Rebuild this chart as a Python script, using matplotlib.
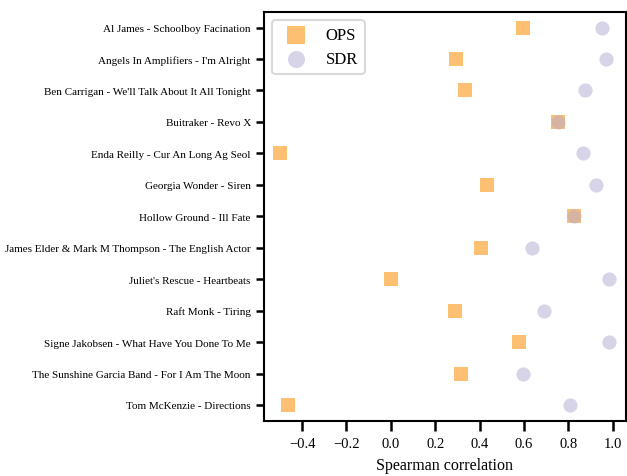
import matplotlib
matplotlib.use('Agg')
import matplotlib.pyplot as plt
import numpy as np

plt.rcParams['font.family'] = ['Liberation Serif', 'DejaVu Serif']

songs = [
    "Al James - Schoolboy Facination",
    "Angels In Amplifiers - I'm Alright",
    "Ben Carrigan - We'll Talk About It All Tonight",
    "Buitraker - Revo X",
    "Enda Reilly - Cur An Long Ag Seol",
    "Georgia Wonder - Siren",
    "Hollow Ground - Ill Fate",
    "James Elder & Mark M Thompson - The English Actor",
    "Juliet's Rescue - Heartbeats",
    "Raft Monk - Tiring",
    "Signe Jakobsen - What Have You Done To Me",
    "The Sunshine Garcia Band - For I Am The Moon",
    "Tom McKenzie - Directions",
]

ops = [0.598, 0.293, 0.334, 0.753, -0.498, 0.434, 0.826, 0.407, 0.001, 0.288, 0.580, 0.316, -0.462]
sdr = [0.953, 0.970, 0.877, 0.753, 0.868, 0.926, 0.826, 0.637, 0.985, 0.692, 0.985, 0.598, 0.810]

fig = plt.figure(figsize=(6.27, 4.77), dpi=100)
ax = fig.add_axes([0.421, 0.116, 0.577, 0.857])

ypos = np.arange(len(songs))
ax.scatter(ops, ypos, marker='s', s=105, color='#fdb863', alpha=0.9, linewidths=0, label='OPS')
ax.scatter(sdr, ypos, marker='o', s=105, color='#b2abd2', alpha=0.5, linewidths=0, label='SDR')

ax.set_yticks(ypos)
ax.set_yticklabels(songs, fontsize=8)
ax.set_ylim(len(songs) - 0.5, -0.5)
ax.set_xticks([-0.4, -0.2, 0.0, 0.2, 0.4, 0.6, 0.8, 1.0])
ax.set_xticklabels(['\u22120.4', '\u22120.2', '0.0', '0.2', '0.4', '0.6', '0.8', '1.0'], fontsize=10.5)
ax.set_xlabel('Spearman correlation', fontsize=11.5, labelpad=5)

for s in ax.spines.values():
    s.set_linewidth(1.5)
ax.tick_params(width=1.8, length=6)
ax.tick_params(axis='x', length=7, pad=5)

leg = ax.legend(loc='upper left', fontsize=12, frameon=True, fancybox=True,
                borderpad=0.4, markerscale=1.2)
leg.get_frame().set_linewidth(1.5)
leg.get_frame().set_edgecolor('#d0d0d0')

fig.savefig('out.png', dpi=100)
